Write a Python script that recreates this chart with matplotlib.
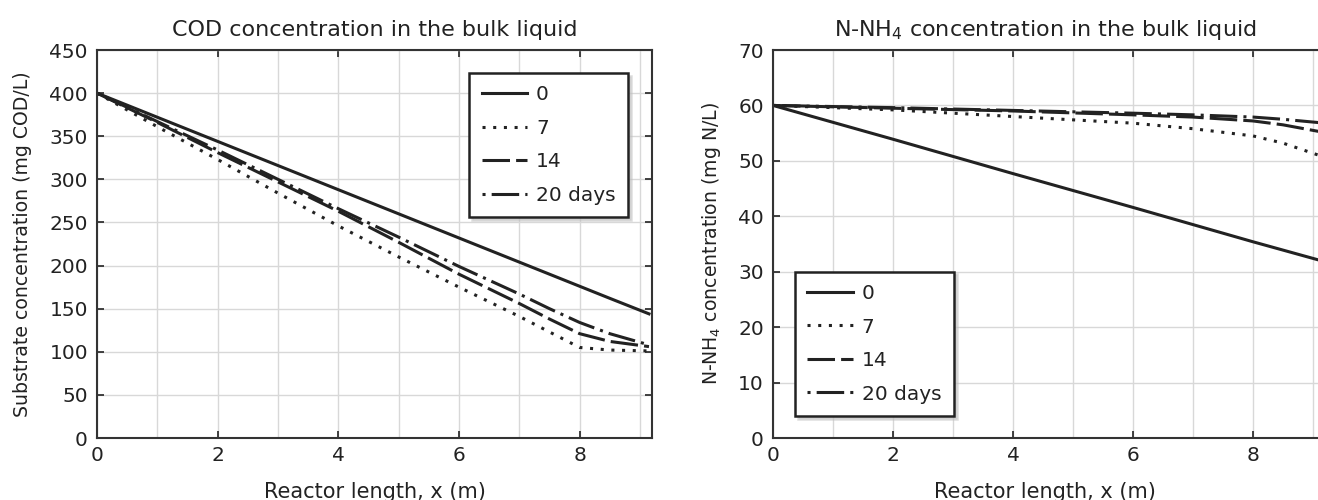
import matplotlib
matplotlib.use("Agg")
import matplotlib.pyplot as plt
from matplotlib.ticker import MultipleLocator

# ---------------------------------
# Data
# ---------------------------------

labels = ["0", "7", "14", "20 days"]

x_cod = [0, 1, 2, 3, 4, 5, 6, 7, 7.5, 8, 8.5, 9.15]
cod_0 = [400, 372, 344, 316, 288, 260, 232, 204, 190, 176, 162, 144]
cod_7 = [400, 361, 323, 284, 246, 210, 175, 141, 123, 105, 102, 101]
cod_14 = [400, 366, 331, 297, 263, 227, 190, 156, 138, 121, 112, 106]
cod_20 = [400, 367, 334, 300, 266, 233, 199, 167, 150, 134, 121, 108]

x_nh4 = [0, 2, 4, 6, 7, 8, 8.5, 9.1]
nh4_0 = [60, 53.9, 47.7, 41.6, 38.5, 35.4, 33.9, 32.1]
nh4_7 = [60, 59.2, 58.0, 56.8, 55.8, 54.5, 53.2, 51.0]
nh4_14 = [60, 59.5, 59.0, 58.3, 57.9, 57.2, 56.5, 55.3]
nh4_20 = [60, 59.6, 59.1, 58.6, 58.3, 57.9, 57.5, 56.9]

# ---------------------------------
# Styles
# ---------------------------------

ink = "#222222"
styles = [
    "-",
    (0, (1, 2.5)),
    (0, (9, 2)),
    (11, (9, 2, 1, 2)),
]

plt.rcParams["font.family"] = "DejaVu Sans"
plt.rcParams["text.color"] = ink
plt.rcParams["axes.labelcolor"] = ink
plt.rcParams["xtick.color"] = ink
plt.rcParams["ytick.color"] = ink

fig = plt.figure(figsize=(13.18, 5.0), dpi=100)

W, H = 1318, 500
ax1 = fig.add_axes([97 / W, 62 / H, 555 / W, 388 / H])
ax2 = fig.add_axes([773 / W, 62 / H, 552 / W, 388 / H])


def style_axes(ax, ymax, ystep):
    ax.set_xlim(0, 9.2)
    ax.set_ylim(0, ymax)
    ax.xaxis.set_major_locator(MultipleLocator(2))
    ax.xaxis.set_minor_locator(MultipleLocator(1))
    ax.yaxis.set_major_locator(MultipleLocator(ystep))
    ax.tick_params(which="major", direction="in", length=5, width=1.2,
                   top=True, right=True, labelsize=14.5)
    ax.tick_params(axis="x", pad=6)
    ax.tick_params(axis="y", pad=6.5)
    ax.tick_params(which="minor", direction="in", length=0,
                   top=True, right=True)
    ax.grid(which="both", color="#d8d8d8", linewidth=1)
    ax.set_axisbelow(True)
    for sp in ax.spines.values():
        sp.set_color("#333333")
        sp.set_linewidth(1.5)
    ax.set_xlabel("Reactor length, x (m)", fontsize=15)


def add_legend(ax, loc, anchor):
    leg = ax.legend(loc=loc, bbox_to_anchor=anchor, borderaxespad=0,
                    fontsize=14.5, fancybox=False, framealpha=1,
                    edgecolor=ink, handlelength=2.25, handletextpad=0.45,
                    labelspacing=0.72, borderpad=0.62,
                    shadow={"ox": 2, "oy": -2, "color": "0.75"})
    leg.get_frame().set_linewidth(1.8)
    return leg


# ---------------------------------
# Left: COD
# ---------------------------------

for ys, ls, lab in zip([cod_0, cod_7, cod_14, cod_20], styles, labels):
    ax1.plot(x_cod, ys, color=ink, lw=2.2, ls=ls, label=lab)

style_axes(ax1, 450, 50)
ax1.set_title("COD concentration in the bulk liquid", fontsize=16, pad=10)
ax1.set_ylabel("Substrate concentration (mg COD/L)", fontsize=13.6)
ax1.yaxis.set_label_coords(-0.117, 0.5)
ax1.xaxis.set_label_coords(0.5, -0.113)
add_legend(ax1, "upper right", ((628 - 97) / 555, (438 - 73) / 388))

# ---------------------------------
# Right: N-NH4
# ---------------------------------

for ys, ls, lab in zip([nh4_0, nh4_7, nh4_14, nh4_20], styles, labels):
    ax2.plot(x_nh4, ys, color=ink, lw=2.2, ls=ls, label=lab)

style_axes(ax2, 70, 10)
ax2.set_title(r"N-NH$_4$ concentration in the bulk liquid", fontsize=16,
              pad=10, x=(1045 - 773) / 552)
ax2.set_ylabel(r"N-NH$_4$ concentration (mg N/L)", fontsize=13.6)
ax2.yaxis.set_label_coords(-0.0906, 0.5)
ax2.xaxis.set_label_coords((1045 - 773) / 552, -0.113)
add_legend(ax2, "lower left", ((795 - 773) / 552, (438 - 416) / 388))

fig.savefig("out.png", dpi=100)
